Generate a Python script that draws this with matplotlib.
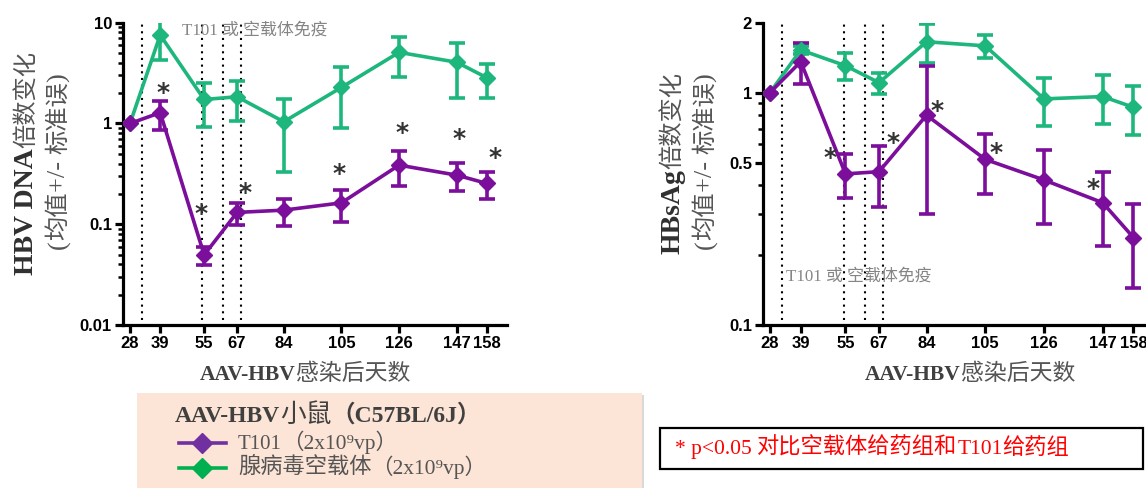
import matplotlib
matplotlib.use("Agg")
import matplotlib.pyplot as plt
from matplotlib.lines import Line2D
from matplotlib.patches import Rectangle
from matplotlib.ticker import FixedLocator, FixedFormatter, NullFormatter
from matplotlib.font_manager import FontProperties

# ---------------- data ----------------
days = [28, 39, 55, 67, 84, 105, 126, 147, 158]
day_labels = ["28", "39", "55", "67", "84", "105", "126", "147", "158"]
dose_days = [32.4, 54.3, 62.0, 68.3]

dna_vec = [1, 7.55, 1.73, 1.84, 1.04, 2.28, 5.08, 4.05, 2.84]
dna_vec_sem = [0, 3.25, 0.81, 0.78, 0.71, 1.38, 2.21, 2.25, 1.07]
dna_t101 = [1, 1.28, 0.0496, 0.131, 0.138, 0.163, 0.386, 0.307, 0.254]
dna_t101_sem = [0, 0.41, 0.0105, 0.033, 0.042, 0.058, 0.149, 0.094, 0.078]
dna_star_x = [40.0, 53.9, 69.9, 104.1, 127.1, 147.7, 160.9]
dna_star_y = [2.0, 0.125, 0.205, 0.315, 0.80, 0.70, 0.45]
dna_yticks = [0.01, 0.1, 1, 10]
dna_yticklabels = ["0.01", "0.1", "1", "10"]

hbs_vec = [1, 1.526, 1.306, 1.104, 1.656, 1.59, 0.94, 0.962, 0.865]
hbs_vec_sem = [0, 0.06, 0.177, 0.113, 0.312, 0.185, 0.22, 0.228, 0.205]
hbs_t101 = [1, 1.36, 0.447, 0.457, 0.80, 0.516, 0.421, 0.336, 0.238]
hbs_t101_sem = [0, 0.27, 0.095, 0.135, 0.50, 0.148, 0.148, 0.118, 0.093]
hbs_star_x = [49.5, 72.1, 87.9, 108.8, 143.7]
hbs_star_y = [0.525, 0.61, 0.83, 0.548, 0.385]
hbs_yticks = [0.1, 0.5, 1, 2]
hbs_yticklabels = ["0.1", "0.5", "1", "2"]
hbs_yminor = [0.2, 0.3, 0.4, 0.6, 0.7, 0.8, 0.9]

# ---------------- style ----------------
GREEN = "#1db77d"
PURPLE = "#7b0e9b"
SERIF_CJK = ["Liberation Serif", "Noto Sans CJK SC", "DejaVu Serif"]
TICKFONT = dict(family="Liberation Sans", weight="bold", size=12)
W, H = 1146, 488

fig = plt.figure(figsize=(11.46, 4.88), dpi=100)
renderer = fig.canvas.get_renderer()


def mixed_text(x_px, y_px, pieces, rotation=0, align="left"):
    """Draw consecutive text pieces with different styles.
    (x_px, y_px) is the baseline start (align='left') or baseline centre (align='center')."""
    objs = []
    for txt, kw in pieces:
        t = fig.text(0, 0, txt, rotation=rotation, rotation_mode="anchor",
                     ha="left", va="baseline", transform=None, **kw)
        objs.append(t)
    lengths = []
    for t in objs:
        bb = t.get_window_extent(renderer)
        lengths.append(bb.height if rotation == 90 else bb.width)
    total = sum(lengths)
    start = -total / 2 if align == "center" else 0
    pos = start
    for t, L in zip(objs, lengths):
        if rotation == 90:
            t.set_position((x_px, (H - y_px) + pos))
        else:
            t.set_position((x_px + pos, H - y_px))
        pos += L
    return objs


def panel(rect, xlim, ylim, vec, vec_sem, t101, t101_sem, sx, sy,
          yticks, yticklabels, yminor, note_xy):
    ax = fig.add_axes(rect)
    ax.set_yscale("log")
    ax.set_xlim(*xlim)
    ax.set_ylim(*ylim)
    for d in dose_days:
        ax.axvline(d, ymin=0.015, ymax=1, color="black", ls=(0, (1, 2.2)), lw=1.5, zorder=1)
    for y, e, c in [(vec, vec_sem, GREEN), (t101, t101_sem, PURPLE)]:
        ax.errorbar(days, y, yerr=e, color=c, lw=2.6, marker="D", ms=8.5,
                    capsize=6, capthick=2.6, elinewidth=2.6, zorder=3)
    for x, y in zip(sx, sy):
        ax.text(x, y, "*", fontsize=18, fontweight="bold", color="#333333",
                ha="center", va="center", family="DejaVu Sans", zorder=4)
    for s in ["top", "right"]:
        ax.spines[s].set_visible(False)
    for s in ["left", "bottom"]:
        ax.spines[s].set_linewidth(2.3)
    ax.set_xticks(days)
    ax.set_xticklabels(day_labels, **TICKFONT)
    ax.yaxis.set_major_locator(FixedLocator(yticks))
    ax.yaxis.set_major_formatter(FixedFormatter(yticklabels))
    if yminor is not None:
        ax.yaxis.set_minor_locator(FixedLocator(yminor))
    ax.yaxis.set_minor_formatter(NullFormatter())
    for lab in ax.get_yticklabels():
        lab.set_fontproperties(FontProperties(**TICKFONT))
    ax.tick_params(which="major", length=6, width=2.3, pad=2)
    ax.tick_params(which="minor", length=3.5, width=1.8)
    ax.text(note_xy[0], note_xy[1], "T101 或 空载体免疫", family=SERIF_CJK,
            fontsize=12.2, color="#858585", ha="left", va="center", zorder=2)
    return ax


axL = panel([123 / W, 1 - 325 / H, 384 / W, 302.3 / H], (25.45, 165.3), (0.01, 10),
            dna_vec, dna_vec_sem, dna_t101, dna_t101_sem, dna_star_x, dna_star_y,
            dna_yticks, dna_yticklabels, None, (47.1, 8.3))
axR = panel([763 / W, 1 - 325 / H, 383 / W, 302.3 / H], (25.5, 162.5), (0.1, 2),
            hbs_vec, hbs_vec_sem, hbs_t101, hbs_t101_sem, hbs_star_x, hbs_star_y,
            hbs_yticks, hbs_yticklabels, hbs_yminor, (33.7, 0.162))

BOLD_LAT = dict(family=SERIF_CJK, fontweight="bold", color="#303030")
REG_CJK = dict(family=["Noto Sans CJK SC", "Liberation Serif"], fontweight="normal", color="#555555")
REG_LAT = dict(family=SERIF_CJK, fontweight="normal", color="#555555")

# x labels
for cx in (305, 970):
    mixed_text(cx, 380, [("AAV-HBV", dict(BOLD_LAT, fontsize=15.5, color="#404040")),
                         ("感染后天数", dict(REG_CJK, fontsize=16.5))], align="center")

# y labels
mixed_text(33, 163, [("HBV DNA", dict(BOLD_LAT, fontsize=20)),
                     ("倍数变化", dict(REG_CJK, fontsize=17.5))], rotation=90, align="center")
mixed_text(65, 161, [("(", dict(REG_LAT, fontsize=19)),
                     ("均值", dict(REG_CJK, fontsize=17.5)),
                     ("+/- ", dict(REG_LAT, fontsize=19)),
                     ("标准误", dict(REG_CJK, fontsize=17.5)),
                     (")", dict(REG_LAT, fontsize=19))], rotation=90, align="center")
mixed_text(679, 163, [("HBsAg", dict(BOLD_LAT, fontsize=20)),
                      ("倍数变化", dict(REG_CJK, fontsize=17.5))], rotation=90, align="center")
mixed_text(712, 161, [("(", dict(REG_LAT, fontsize=19)),
                      ("均值", dict(REG_CJK, fontsize=17.5)),
                      ("+/- ", dict(REG_LAT, fontsize=19)),
                      ("标准误", dict(REG_CJK, fontsize=17.5)),
                      (")", dict(REG_LAT, fontsize=19))], rotation=90, align="center")

# legend box
fig.add_artist(Rectangle((139 / W, -0.02), 505 / W, 0.02 + (H - 395) / H,
                         transform=fig.transFigure, facecolor="#d9d9d9", edgecolor="none", zorder=0))
fig.add_artist(Rectangle((137 / W, -0.02), 505 / W, 0.02 + (H - 393) / H,
                         transform=fig.transFigure, facecolor="#fce4d6", edgecolor="none", zorder=0.5))
mixed_text(175, 422, [("AAV-HBV", dict(BOLD_LAT, fontsize=17, color="#404040")),
                      ("小鼠", dict(REG_CJK, fontsize=18.5, color="#404040")),
                      ("（C57BL/6J）", dict(BOLD_LAT, fontsize=17, color="#404040"))])
legend_items = [("T101", "（2x10⁹vp）", "#7030a0", 443),
                ("腺病毒空载体", "（2x10⁹vp）", "#00b050", 468)]
for lab1, lab2, col, ypx in legend_items:
    yf = 1 - ypx / H
    fig.add_artist(Line2D([179 / W, 226 / W], [yf, yf], transform=fig.transFigure,
                          color=col, lw=2.6))
    fig.add_artist(Line2D([202 / W], [yf], transform=fig.transFigure, color=col,
                          marker="D", ms=10, lw=0))
    mixed_text(238, ypx + 6, [(lab1, dict(REG_LAT if lab1 == "T101" else REG_CJK, fontsize=15 if lab1 == "T101" else 16)),
                              (lab2, dict(REG_LAT, fontsize=15.5))])

# significance note box
fig.add_artist(Rectangle((660 / W, 1 - 469 / H), 483 / W, 41 / H,
                         transform=fig.transFigure, facecolor="white", edgecolor="black", lw=1.6))
mixed_text(675, 454, [("* p<0.05 ", dict(family=SERIF_CJK, fontsize=15.5, color="#ff0000")),
                      ("对比空载体给药组和", dict(family=["Noto Sans CJK SC"], fontsize=16, color="#ff0000")),
                      ("T101", dict(family=SERIF_CJK, fontsize=15.5, color="#ff0000")),
                      ("给药组", dict(family=["Noto Sans CJK SC"], fontsize=16, color="#ff0000"))])

fig.savefig("out.png", dpi=100)
